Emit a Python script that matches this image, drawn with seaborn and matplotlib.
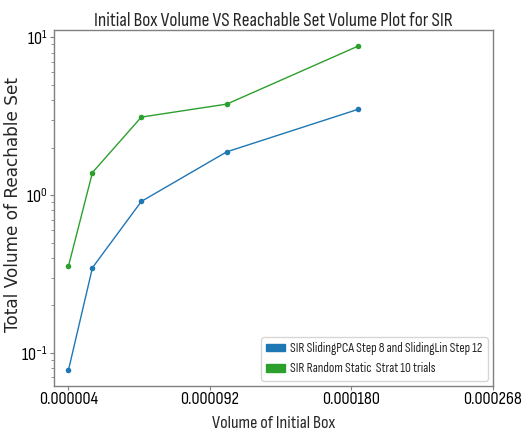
import matplotlib
matplotlib.use("Agg")
import matplotlib.pyplot as plt
from matplotlib.patches import Patch
import seaborn as sns
import pandas as pd

box_volume = [4.1e-6, 19.0e-6, 49.4e-6, 102.5e-6, 184.0e-6]
sliding_vol = [0.078, 0.347, 0.912, 1.88, 3.49]
random_vol = [0.355, 1.39, 3.12, 3.77, 8.77]
series_names = ["SIR SlidingPCA Step 8 and SlidingLin Step 12",
                "SIR Random Static  Strat 10 trials"]
xtick_vals = [0.000004, 0.000092, 0.000180, 0.000268]
xtick_labels = ["0.000004", "0.000092", "0.000180", "0.000268"]

df = pd.DataFrame({
    "x": box_volume * 2,
    "y": sliding_vol + random_vol,
    "series": [series_names[0]] * 5 + [series_names[1]] * 5,
})

sns.set_style("ticks")
narrow = ["Sofia Sans Condensed", "DejaVu Sans"]
plt.rcParams["font.family"] = narrow
plt.rcParams["mathtext.default"] = "regular"
plt.rcParams["axes.unicode_minus"] = True

colors = ["#1f77b4", "#2ca02c"]
fig = plt.figure(figsize=(5.32, 4.30), dpi=100)
ax = fig.add_axes([0.1015, 0.1023, 0.8252, 0.8277])

sns.lineplot(data=df, x="x", y="y", hue="series", palette=colors,
             marker="o", markersize=4, markeredgewidth=0, linewidth=1,
             ax=ax, legend=False)
ax.set_yscale("log")
ax.set_xlim(-4.9e-6, 0.000268)
ax.set_ylim(10 ** -1.209, 10 ** 1.045)
ax.set_xticks(xtick_vals)
ax.set_xticklabels(xtick_labels)
ax.tick_params(axis="both", which="major", labelsize=13, length=3, pad=1.5,
               color="gray", labelcolor="black")
ax.tick_params(axis="y", which="minor", length=2, color="gray")
ax.tick_params(axis="x", which="minor", length=0)
for s in ax.spines.values():
    s.set_color("gray")
    s.set_linewidth(1)

ax.set_title("Initial Box Volume VS Reachable Set Volume Plot for SIR",
             fontsize=14, pad=3)
ax.set_xlabel("Volume of Initial Box", fontsize=13, labelpad=6.5)
ax.set_ylabel("Total Volume of Reachable Set", fontsize=12.2,
              family="DejaVu Sans")
ax.yaxis.set_label_coords(-0.072, 0.51)

handles = [Patch(color=c, label=n) for c, n in zip(colors, series_names)]
ax.legend(handles=handles, loc="lower right", fontsize=9.5, frameon=True,
          handlelength=1.4, handleheight=0.5, handletextpad=0.4,
          borderaxespad=0.4, labelspacing=0.55)

fig.savefig("out.png", dpi=100)
